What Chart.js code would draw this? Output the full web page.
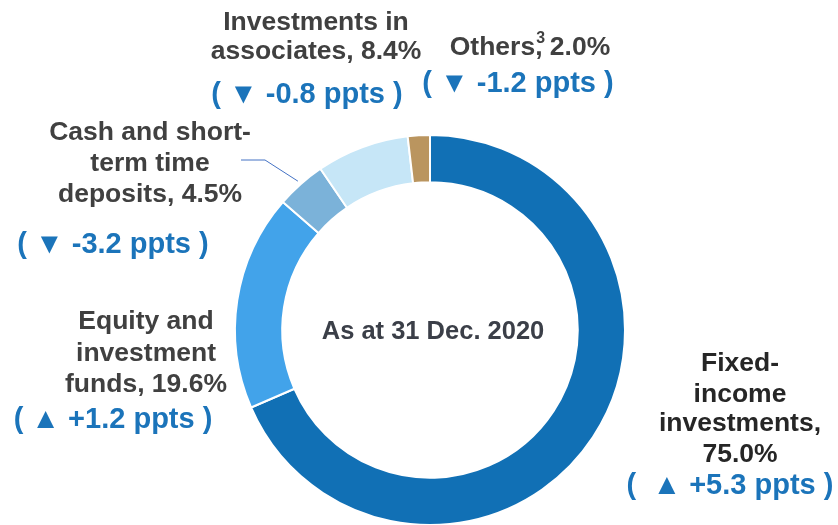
<!DOCTYPE html>
<html>
<head>
<meta charset="utf-8">
<script src="https://cdn.jsdelivr.net/npm/chart.js@4/dist/chart.umd.min.js"></script>
<style>
  html, body { margin: 0; padding: 0; background: #ffffff; }
  #wrap { width: 838px; height: 525px; position: relative; }
</style>
</head>
<body>
<div id="wrap"><canvas id="c" width="838" height="525"></canvas></div>
<script>
// ---- Data ----
const categories = ['Fixed-income investments', 'Equity and investment funds', 'Cash and short-term time deposits', 'Investments in associates', 'Others'];
const shares = [75.0, 19.6, 4.5, 8.4, 2.0];
const changes = [5.3, 1.2, -3.2, -0.8, -1.2];
const labelLines = [
  ['Fixed-', 'income', 'investments,', '75.0%'],
  ['Equity and', 'investment', 'funds, 19.6%'],
  ['Cash and short-', 'term time', 'deposits, 4.5%'],
  ['Investments in', 'associates, 8.4%'],
  ['Others^3, 2.0%']
];
const centerText = 'As at 31 Dec. 2020';

// ---- Styles / layout ----
const colors = ['#1170b5', '#42a3ea', '#7bb2d9', '#c6e6f7', '#ba955f'];
const FONT = '"Liberation Sans", Arial, sans-serif';
const labelLayout = [
  { x: 740, ys: [371, 402, 431, 462], cx: 730, cy: 494, color: '#262626', pad: '  ' },
  { x: 146, ys: [329, 361, 392], cx: 113, cy: 428, color: '#404040', pad: ' ' },
  { x: 150, ys: [140, 171, 202], cx: 113, cy: 253, color: '#404040', pad: ' ', leader: [[241, 160], [265, 160]] },
  { x: 316, ys: [30, 59], cx: 307, cy: 103, color: '#404040', pad: ' ' },
  { x: 530, ys: [55], cx: 518, cy: 92, color: '#404040', pad: ' ' }
];

function changeText(v, pad) {
  const arrow = v >= 0 ? '\u25B2' : '\u25BC';
  const sign = v >= 0 ? '+' : '-';
  return '(' + pad + arrow + ' ' + sign + Math.abs(v).toFixed(1) + ' ppts )';
}

function drawRich(ctx, text, cx, y, size) {
  // supports ^N superscript (overlaid, no advance)
  const parts = text.split(/\^(\d)/);
  const segs = [];
  for (let i = 0; i < parts.length; i++) {
    if (parts[i] === '') continue;
    segs.push({ t: parts[i], sup: i % 2 === 1 });
  }
  let total = 0;
  segs.forEach(s => {
    ctx.font = 'bold ' + (s.sup ? size * 0.6 : size) + 'px ' + FONT;
    s.w = ctx.measureText(s.t).width;
    if (!s.sup) total += s.w;
  });
  let x = cx - total / 2;
  ctx.textAlign = 'left';
  segs.forEach(s => {
    ctx.font = 'bold ' + (s.sup ? size * 0.6 : size) + 'px ' + FONT;
    ctx.fillText(s.t, s.sup ? x + 1 : x, s.sup ? y - size * 0.45 : y);
    if (!s.sup) x += s.w;
  });
}

const labelPlugin = {
  id: 'labels',
  afterDraw(chart) {
    const ctx = chart.ctx;
    const meta = chart.getDatasetMeta(0);
    ctx.save();
    ctx.textBaseline = 'alphabetic';
    labelLayout.forEach((L, i) => {
      ctx.fillStyle = L.color;
      labelLines[i].forEach((line, j) => drawRich(ctx, line, L.x, L.ys[j], 26.5));
      ctx.fillStyle = '#1b74ba';
      ctx.font = 'bold 29px ' + FONT;
      ctx.textAlign = 'center';
      ctx.fillText(changeText(changes[i], L.pad), L.cx, L.cy);
      if (L.leader) {
        const arc = meta.data[i];
        const mid = (arc.startAngle + arc.endAngle) / 2;
        const r = arc.outerRadius + 4;
        ctx.strokeStyle = '#4472c4';
        ctx.lineWidth = 1;
        ctx.beginPath();
        ctx.moveTo(L.leader[0][0], L.leader[0][1]);
        ctx.lineTo(L.leader[1][0], L.leader[1][1]);
        ctx.lineTo(arc.x + Math.cos(mid) * r, arc.y + Math.sin(mid) * r);
        ctx.stroke();
      }
    });
    // center text
    const a0 = meta.data[0];
    ctx.fillStyle = '#3b3f48';
    ctx.font = 'bold 25.5px ' + FONT;
    ctx.textAlign = 'center';
    ctx.fillText(centerText, a0.x + 3, a0.y + 9);
    ctx.restore();
  }
};

new Chart(document.getElementById('c'), {
  type: 'doughnut',
  data: {
    labels: categories,
    datasets: [{
      data: shares,
      backgroundColor: colors,
      borderColor: '#ffffff',
      borderWidth: 2,
      hoverOffset: 0,
      radius: 195,
      cutout: 147
    }]
  },
  options: {
    responsive: false,
    animation: false,
    layout: { padding: { left: 235, right: 213, top: 135, bottom: 0 } },
    plugins: { legend: { display: false }, tooltip: { enabled: false } },
    events: []
  },
  plugins: [labelPlugin]
});
</script>
</body>
</html>
